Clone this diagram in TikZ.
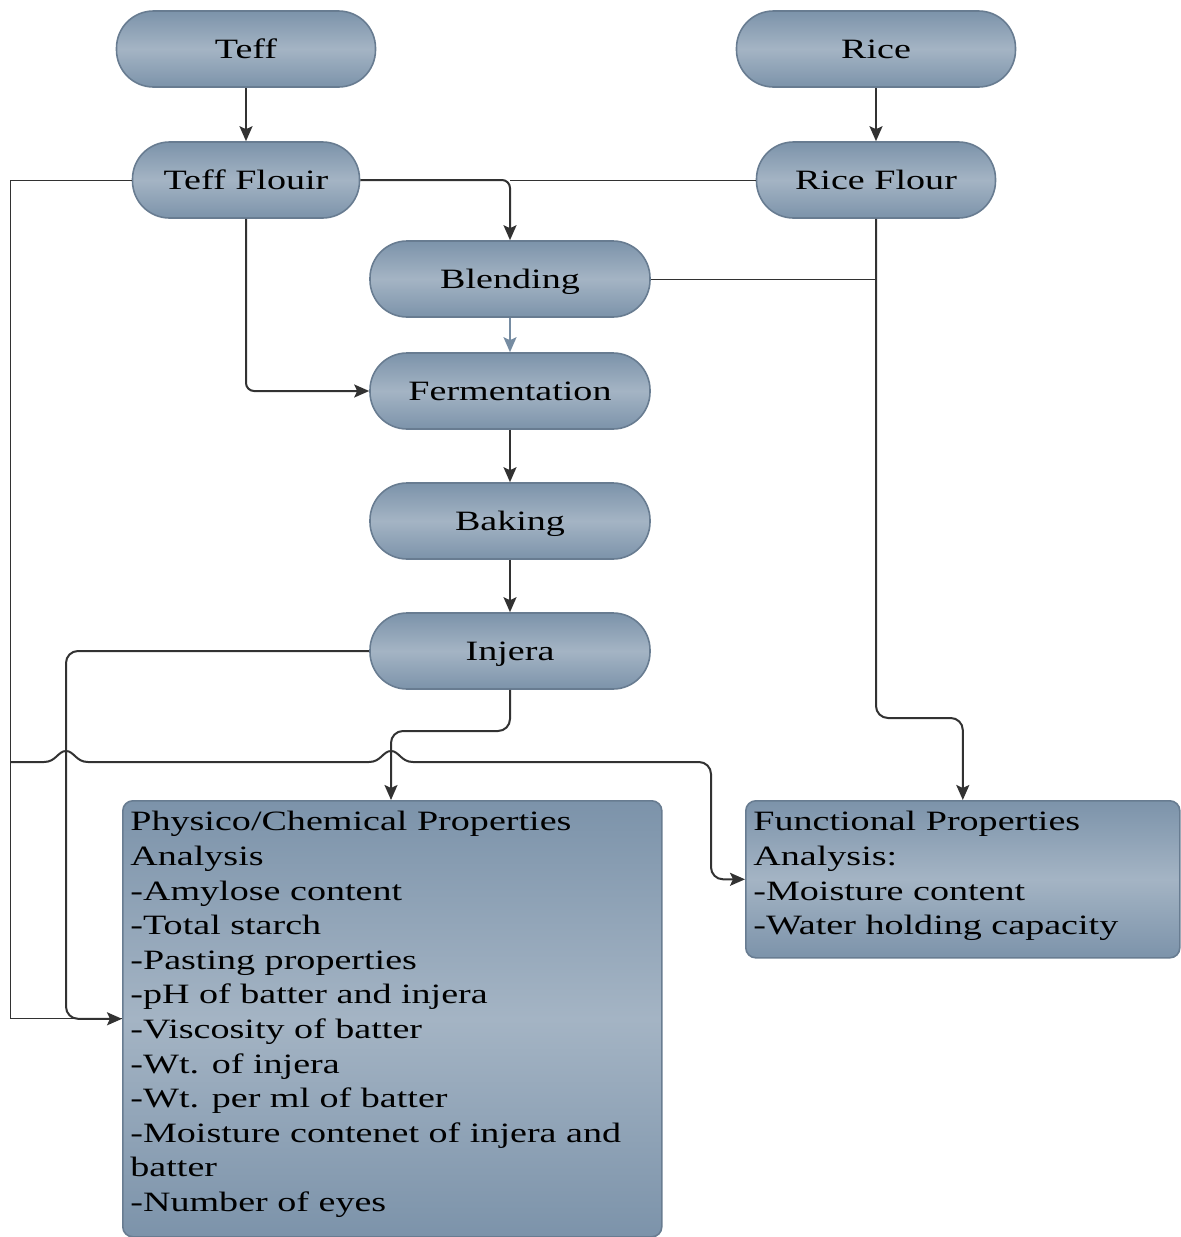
\documentclass[tikz,border=0pt]{standalone}
\usepackage{fontspec}
\setmainfont{Liberation Serif}[FakeStretch=1.36]
\usetikzlibrary{arrows.meta}
\definecolor{pilldark}{RGB}{124,147,170}
\definecolor{pilllight}{RGB}{164,180,196}
\definecolor{pillline}{RGB}{104,124,145}
\definecolor{wire}{RGB}{50,50,50}
\definecolor{wirelight}{RGB}{118,140,162}
\begin{document}
\begin{tikzpicture}[x=0.5pt, y=-0.5pt,
        pill/.style={rectangle, rounded corners=18.5pt, draw=pillline, line width=0.8pt,
            top color=pilldark, bottom color=pilldark, middle color=pilllight,
            minimum height=38pt, inner sep=0pt, text height=9.8pt, text depth=0pt,
            font=\fontsize{14}{17.3}\selectfont},
        panel/.style={rectangle, rounded corners=5pt, draw=pillline, line width=0.8pt,
            top color=pilldark, bottom color=pilldark, middle color=pilllight, anchor=north west},
        panel text/.style={anchor=north west, align=left, inner xsep=4pt, inner ysep=5.5pt,
            font=\fontsize{14}{17.3}\selectfont},
        arr/.style={wire, line width=1pt, -{Stealth[length=7.5pt,width=6.5pt,inset=1.5pt]}},
        feed/.style={wire, line width=0.5pt}]
    \useasboundingbox (0,0) rectangle (1181,1237);
    % ── raw materials and flours ──────────────────────────
    \node[pill, minimum width=129.5pt] (teff) at (246,49) {Teff};
    \node[pill, minimum width=139.5pt] (rice) at (876,49) {Rice};
    \node[pill, minimum width=113.5pt] (teffflour) at (246,180) {Teff Flouir};
    \node[pill, minimum width=119.5pt] (riceflour) at (876,180) {Rice Flour};
    % ── process steps ─────────────────────────────────────
    \node[pill, minimum width=140pt] (blending) at (510,279) {Blending};
    \node[pill, minimum width=140pt] (ferment) at (510,391) {Fermentation};
    \node[pill, minimum width=140pt] (baking) at (510,521) {Baking};
    \node[pill, minimum width=140pt] (injera) at (510,651) {Injera};
    % ── analyses ──────────────────────────────────────────
    \node[panel, minimum width=269.5pt, minimum height=218pt] (physico) at (122,800) {};
    \node[panel text] (physicotext) at (physico.north west) {Physico/Chemical Properties\\
        Analysis\\ -Amylose content\\ -Total starch\\ -Pasting properties\\
        -pH of batter and injera\\ -Viscosity of batter\\ -Wt. of injera\\
        -Wt. per ml of batter\\ -Moisture contenet of injera and\\ batter\\ -Number of eyes};
    \node[panel, minimum width=217pt, minimum height=78.5pt] (functional) at (745,800) {};
    \node[panel text] (functext) at (functional.north west) {Functional Properties\\
        Analysis:\\ -Moisture content\\ -Water holding capacity};
    % ── bends ─────────────────────────────────────────────
    \coordinate (rail) at (10,762);
    \coordinate (rfbend) at (876,718);
    \coordinate (injbend) at (66,651);
    \coordinate (injdrop) at (391,731);
    % ── connectors ────────────────────────────────────────
    \draw[arr] (teff) -- (teffflour);
    \draw[arr] (rice) -- (riceflour);
    \draw[feed] (riceflour.west) -- (riceflour.west -| blending.north);
    \draw[arr, rounded corners=4pt] (teffflour.east) -| (blending.north);
    \draw[arr, wirelight] (blending) -- (ferment);
    \draw[arr, rounded corners=4pt] (teffflour.south) |- (ferment.west);
    \draw[feed] (blending.east) -- (blending.east -| riceflour.south);
    \draw[arr, rounded corners=6pt] (riceflour.south) -- (rfbend) -| (functional.north);
    \draw[arr] (ferment) -- (baking);
    \draw[arr] (baking) -- (injera);
    \draw[feed] (teffflour.west) -- (teffflour.west -| rail) |- (physico.west);
    \draw[arr, rounded corners=6pt] (injera.west) -- (injbend) |- (physico.west);
    \draw[arr, rounded corners=6pt] (injera.south) |- (injdrop) -- (injdrop |- physico.north);
    \draw[arr] (rail) -- (44,762) .. controls (56,762) and (58,751) .. (66,751)
        .. controls (74,751) and (76,762) .. (88,762) -- (369,762)
        .. controls (381,762) and (383,751) .. (391,751)
        .. controls (399,751) and (401,762) .. (413,762)
        [rounded corners=6pt] -- (711,762) |- (functional.west);
\end{tikzpicture}
\end{document}
